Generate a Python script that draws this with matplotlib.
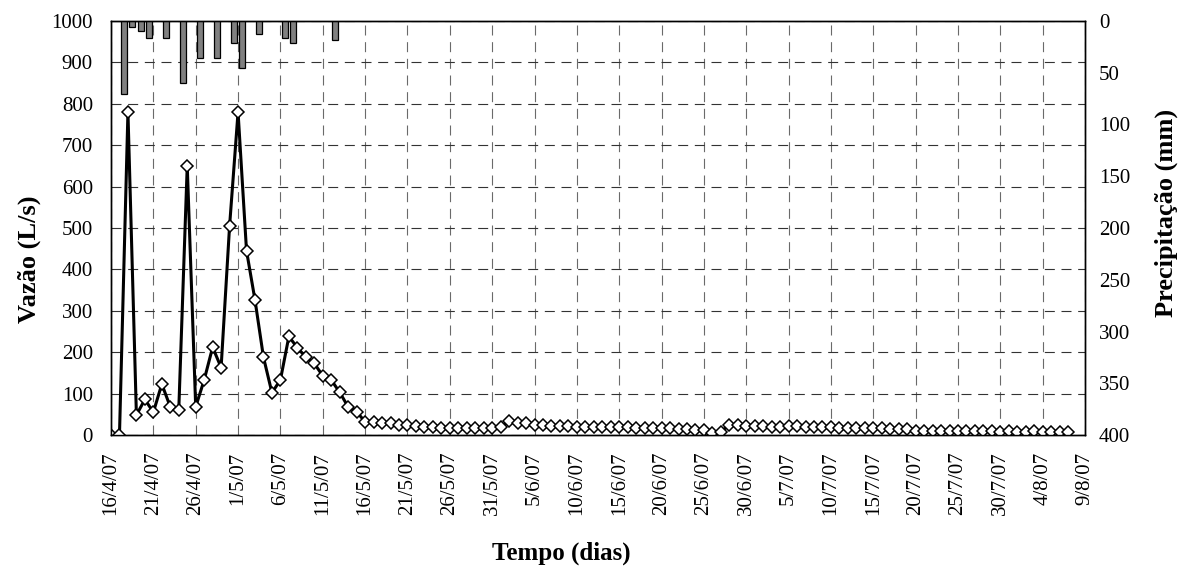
import matplotlib
matplotlib.use("Agg")
import matplotlib.pyplot as plt
import numpy as np
import pandas as pd

plt.rcParams['font.family'] = ['Liberation Serif', 'DejaVu Serif']

# daily discharge (L/s), starting 16/4/2007
start = "2007-04-16"
vazao = [
    0, 0, 780, 48, 86, 55, 123, 68, 60, 650,
    68, 133, 212, 163, 505, 780, 445, 326, 188, 102,
    133, 238, 211, 188, 173, 143, 133, 103, 68, 56,
    32, 32, 28, 28, 25, 23, 22, 20, 19, 18,
    17, 16, 16, 16, 17, 18, 20, 33, 30, 28,
    25, 23, 22, 21, 21, 20, 20, 20, 20, 19,
    19, 19, 18, 18, 17, 17, 16, 15, 14, 13,
    11, 5, 8, 24, 25, 22, 21, 21, 20, 20,
    21, 21, 20, 20, 19, 19, 18, 18, 17, 17,
    16, 16, 15, 15, 14, 10, 9, 10, 9, 10,
    9, 9, 10, 9, 9, 8, 9, 8, 8, 9,
    8, 8, 8, 7,
]
datas = pd.date_range(start, periods=len(vazao), freq="D")

# daily rainfall (mm)
chuva_dias = ["2007-04-17", "2007-04-18", "2007-04-19", "2007-04-20",
              "2007-04-22", "2007-04-24", "2007-04-26", "2007-04-28",
              "2007-04-30", "2007-05-01", "2007-05-03", "2007-05-06",
              "2007-05-07", "2007-05-12"]
chuva_mm = [71, 5.5, 10, 16, 16, 60, 36, 36, 21, 45, 13, 16, 21, 18]

fig = plt.figure(figsize=(11.84, 5.72), dpi=100)
ax = fig.add_axes([0.09375, 0.2395, 0.8227, 0.7238])

ax.plot(datas, vazao, color="black", lw=2.2, marker="D", ms=6.3,
        mfc="white", mec="black", mew=1.1, zorder=3)

x0, x1 = pd.Timestamp("2007-04-16"), pd.Timestamp("2007-08-09")
ax.set_xlim(x0, x1)
ax.set_ylim(0, 1000)
ax.set_yticks(np.arange(0, 1001, 100))

ticks = pd.date_range(x0, x1, freq="5D")
ax.set_xticks(ticks)
ax.set_xticklabels([f"{d.day}/{d.month}/{d:%y}" for d in ticks],
                   rotation=90, fontsize=15)
ax.tick_params(axis="y", labelsize=15, length=0, pad=13)
ax.tick_params(axis="x", length=0, pad=12)

# dashed grid: vertical lines lighter than horizontal ones
ax.grid(True, axis="x", color="#6a6a6a", lw=0.8, ls=(0, (9, 6)))
ax.grid(True, axis="y", color="#333333", lw=0.8, ls=(0, (9, 6)))
ax.set_axisbelow(True)

ax.set_ylabel("Vazão (L/s)", fontsize=19, fontweight="bold")
ax.yaxis.set_label_coords(-0.072, 0.425)
ax.set_xlabel("Tempo (dias)", fontsize=18, fontweight="bold")
ax.xaxis.set_label_coords(0.462, -0.258)

ax2 = ax.twinx()
barra_x = pd.to_datetime(chuva_dias) + pd.Timedelta(hours=12)
ax2.bar(barra_x, chuva_mm, width=0.7, color="#808080",
        edgecolor="black", lw=0.9)
ax2.set_ylim(400, 0)
ax2.set_yticks(np.arange(0, 401, 50))
ax2.tick_params(axis="y", labelsize=15, length=0, pad=10)
ax2.set_ylabel("Precipitação (mm)", fontsize=19, fontweight="bold")
ax2.yaxis.set_label_coords(1.071, 0.536)
ax2.set_xlim(x0, x1)

for a in (ax, ax2):
    for s in a.spines.values():
        s.set_linewidth(1.0)

fig.savefig("out.png", dpi=100)
